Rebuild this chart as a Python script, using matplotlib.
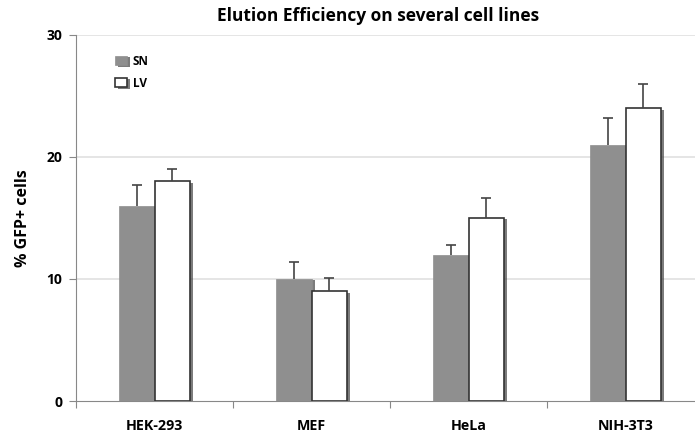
import matplotlib
matplotlib.use("Agg")
import matplotlib.pyplot as plt
import matplotlib.patheffects as pe
import numpy as np

categories = ["HEK-293", "MEF", "HeLa", "NIH-3T3"]
sn_values = [16, 10, 12, 21]
lv_values = [18, 9, 15, 24]
sn_err = [1.7, 1.4, 0.8, 2.2]
lv_err = [1.0, 1.1, 1.6, 2.0]
yticks = [0, 10, 20, 30]

plt.rcParams['font.family'] = ['Open Sans', 'DejaVu Sans']

fig = plt.figure(figsize=(6.95, 4.36), dpi=100)
W, H = 695, 436
x0, x1 = 76, 704
y0, y1 = 401, 35
ax = fig.add_axes([x0 / W, (H - y0) / H, (x1 - x0) / W, (y0 - y1) / H])

x = np.arange(len(categories)) + 0.5
bw = 0.225
shadow = [pe.SimplePatchShadow(offset=(2.5, -1), shadow_rgbFace='#444444', alpha=0.7), pe.Normal()]

ax.bar(x - bw / 2, sn_values, bw, color='#8f8f8f', edgecolor='#8f8f8f', linewidth=0.5,
       path_effects=shadow, zorder=3, label='SN')
ax.bar(x + bw / 2, lv_values, bw, color='white', edgecolor='#333333', linewidth=1.2,
       path_effects=shadow, zorder=3, label='LV')
for xs, vals, errs in [(x - bw / 2, sn_values, sn_err), (x + bw / 2, lv_values, lv_err)]:
    _, caps, _ = ax.errorbar(xs, vals, yerr=[np.zeros(4), errs], fmt='none', ecolor='#444444',
                             elinewidth=1.2, capsize=3.5, capthick=1.2, zorder=4)
    caps[0].set_visible(False)

ax.set_xlim(0, 4)
ax.set_ylim(0, 30)
ax.set_yticks(yticks)
ax.set_yticklabels([str(t) for t in yticks], fontweight='bold', fontsize=10)
ax.set_xticks([0, 1, 2, 3, 4])
ax.set_xticklabels([])
ax.set_xticks(x, minor=True)
ax.set_xticklabels(categories, minor=True, fontweight='bold', fontsize=10.3)
ax.tick_params(axis='x', which='minor', length=0, pad=13)
ax.tick_params(axis='x', which='major', length=5, color='#888888', direction='out')
ax.tick_params(axis='y', length=5, color='#888888', direction='out', pad=5)

for yv in [10, 20, 30]:
    ax.axhline(yv, color='#e0e0e0', linewidth=1.2, zorder=0)

for s in ['top', 'right']:
    ax.spines[s].set_visible(False)
ax.spines['left'].set_color('#888888')
ax.spines['bottom'].set_color('#888888')

ax.set_ylabel('% GFP+ cells', fontweight='bold', fontsize=11.5, labelpad=11)
fig.text(378 / W, 1 - 16 / H, 'Elution Efficiency on several cell lines', ha='center', va='center',
         fontweight='bold', fontsize=12.5)

leg = ax.legend(loc='upper left', bbox_to_anchor=(0.045, 0.975), frameon=False,
                prop={'weight': 'bold', 'size': 8.5}, handlelength=1.0, handleheight=0.85,
                handletextpad=0.5, labelspacing=0.75)

fig.savefig('out.png', dpi=100)
